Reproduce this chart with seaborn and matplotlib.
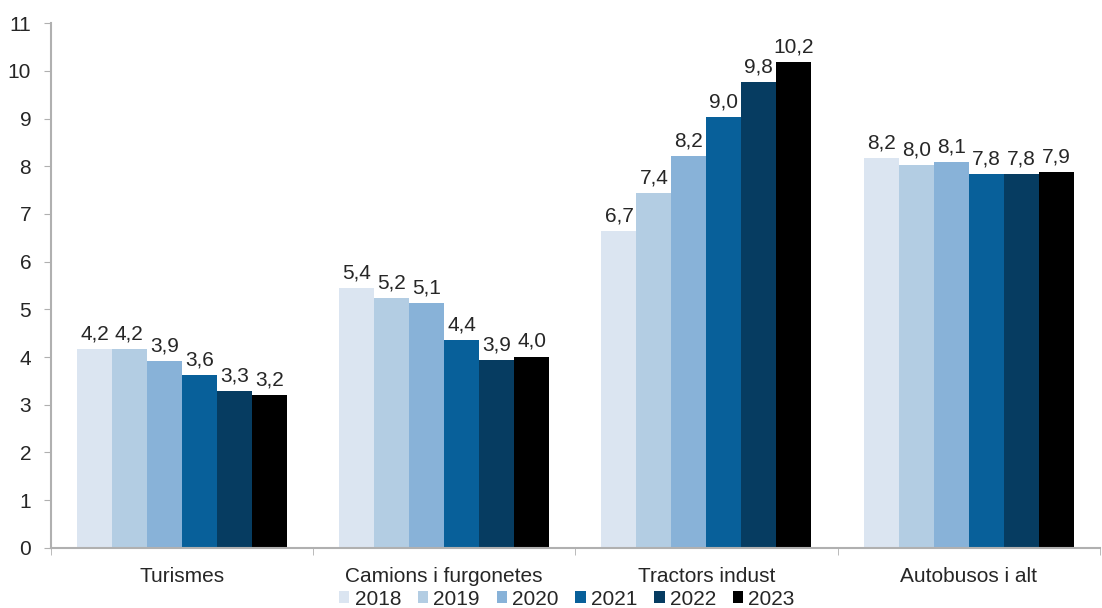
import pandas as pd
import matplotlib.pyplot as plt
import seaborn as sns

categories = ["Turismes", "Camions i furgonetes", "Tractors indust", "Autobusos i alt"]
years = ["2018", "2019", "2020", "2021", "2022", "2023"]

# one list per year, values in order of categories
v2018 = [4.16, 5.44, 6.65, 8.18]
v2019 = [4.16, 5.24, 7.44, 8.03]
v2020 = [3.91, 5.14, 8.22, 8.09]
v2021 = [3.62, 4.36, 9.04, 7.84]
v2022 = [3.28, 3.94, 9.77, 7.83]
v2023 = [3.21, 4.01, 10.19, 7.87]

colors = ["#dbe5f1", "#b3cde3", "#88b2d8", "#08609a", "#063c61", "#000000"]


def build_frame():
    rows = []
    for year, vals in zip(years, [v2018, v2019, v2020, v2021, v2022, v2023]):
        for cat, v in zip(categories, vals):
            rows.append({"categoria": cat, "any": year, "valor": v})
    return pd.DataFrame(rows)


def plot_chart(df):
    sns.set_style("white")
    plt.rcParams["font.family"] = ["Liberation Sans", "DejaVu Sans"]

    fig = plt.figure(figsize=(11.02, 6.08), dpi=100)
    ax = fig.add_axes([0.046, 0.099, 0.952, 0.863])

    sns.barplot(data=df, x="categoria", y="valor", hue="any",
                order=categories, hue_order=years, palette=colors,
                width=0.8, saturation=1, errorbar=None, linewidth=0, ax=ax)

    for cont in ax.containers:
        labels = [f"{b.get_height():.1f}".replace(".", ",") for b in cont]
        ax.bar_label(cont, labels=labels, padding=4, fontsize=15, color="#262626")

    ax.set_ylim(0, 11)
    ax.set_yticks(range(0, 12))
    ax.set_xlim(-0.5, 3.5)
    ax.set_xticks([-0.5, 0.5, 1.5, 2.5, 3.5], minor=True)

    ax.tick_params(axis="y", which="major", direction="out", length=5,
                   color="#b0b0b0", labelsize=15, labelcolor="#262626",
                   left=True, pad=9)
    ax.tick_params(axis="x", which="major", length=0, labelsize=15,
                   labelcolor="#262626", pad=14)
    ax.tick_params(axis="x", which="minor", direction="out", length=5,
                   color="#b0b0b0", bottom=True)

    for side in ["top", "right"]:
        ax.spines[side].set_visible(False)
    for side in ["left", "bottom"]:
        ax.spines[side].set_color("#b0b0b0")
        ax.spines[side].set_linewidth(1.5)

    ax.set_xlabel("")
    ax.set_ylabel("")

    leg = ax.legend(loc="upper center", bbox_to_anchor=(0.492, -0.08), ncol=6,
                    frameon=False, fontsize=15, handlelength=0.5, handleheight=0.5,
                    handletextpad=0.25, columnspacing=0.8, borderaxespad=0,
                    borderpad=0)
    for t in leg.get_texts():
        t.set_color("#262626")

    fig.savefig("out.png", dpi=100)


def main():
    df = build_frame()
    plot_chart(df)


if __name__ == "__main__":
    main()
